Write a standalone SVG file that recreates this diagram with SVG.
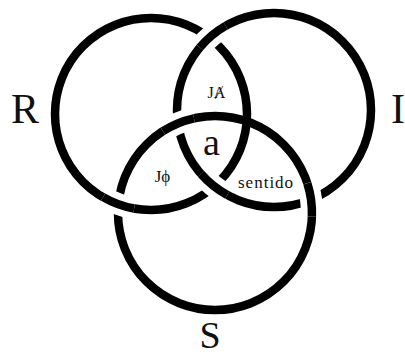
<svg xmlns="http://www.w3.org/2000/svg" width="405" height="356" viewBox="0 0 405 356">
<style>
.ring{fill:none;stroke:#000;stroke-width:8.5}
.mask{fill:none;stroke:#fff;stroke-width:22}
.over{fill:none;stroke:#000;stroke-width:8.5}
.t{font-family:"Liberation Serif","DejaVu Serif",serif;fill:#111}
</style>
<rect width="405" height="356" fill="#fff"/>
<g id="ring-R"><circle class="ring" cx="151" cy="114" r="96"/></g>
<g id="ring-I"><circle class="ring" cx="274" cy="110" r="97"/></g>
<g id="ring-S"><circle class="ring" cx="215" cy="213" r="97"/></g>
<g id="crossings">
<path class="mask" d="M199.8,47.5 A97,97 0 0 1 225.6,25.9"/>
<path class="over" d="M199.8,47.5 A97,97 0 0 1 225.6,25.9"/>
<path class="mask" d="M227.3,195.0 A97,97 0 0 1 201.0,173.9"/>
<path class="over" d="M227.3,195.0 A97,97 0 0 1 201.0,173.9"/>
<path class="mask" d="M134.1,208.5 A96,96 0 0 1 103.1,197.1"/>
<path class="over" d="M134.1,208.5 A96,96 0 0 1 103.1,197.1"/>
<path class="mask" d="M162.9,131.2 A97,97 0 0 1 194.0,118.3"/>
<path class="over" d="M162.9,131.2 A97,97 0 0 1 194.0,118.3"/>
<path class="mask" d="M307.3,183.2 A97,97 0 0 1 311.9,216.6"/>
<path class="over" d="M307.3,183.2 A97,97 0 0 1 311.9,216.6"/>
</g>
<g id="labels">
<text class="t" x="11" y="123" font-size="42">R</text>
<text class="t" x="391" y="123" font-size="42">I</text>
<text class="t" x="210" y="348" font-size="38" text-anchor="middle">S</text>
<text class="t" x="211.5" y="155" font-size="38" text-anchor="middle">a</text>
<text class="t" x="216.5" y="98" font-size="16" text-anchor="middle">JȺ</text>
<text class="t" x="162.5" y="182" font-size="17" text-anchor="middle">Jϕ</text>
<text class="t" x="238" y="188" font-size="17" letter-spacing="1">sentido</text>
</g>
</svg>
